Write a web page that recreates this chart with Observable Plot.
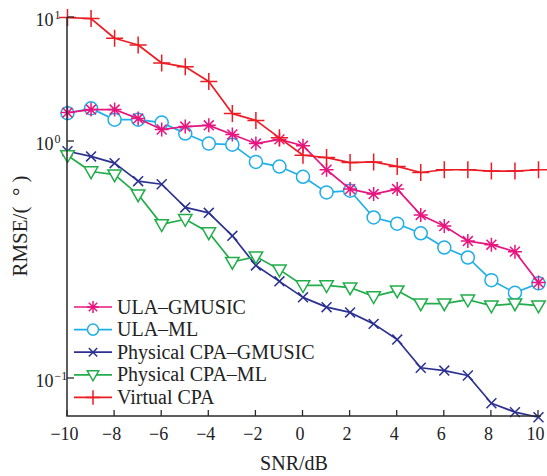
<!DOCTYPE html>
<html><head><meta charset="utf-8">
<script src="https://cdn.jsdelivr.net/npm/d3@7"></script>
<script src="https://cdn.jsdelivr.net/npm/@observablehq/plot@0.6"></script>
<style>body{margin:0;background:#fff} #chart{width:547px;height:476px}</style>
</head><body><div id="chart"></div>
<script>
// ---- data ----
const snr = [-10,-9,-8,-7,-6,-5,-4,-3,-2,-1,0,1,2,3,4,5,6,7,8,9,10];
const ulaGmusic  = [1.71,1.81,1.81,1.53,1.25,1.32,1.35,1.14,0.98,1.04,0.96,0.76,0.63,0.60,0.63,0.49,0.44,0.38,0.367,0.343,0.254];
const ulaMl      = [1.69,1.85,1.50,1.50,1.42,1.16,0.98,0.97,0.82,0.784,0.71,0.61,0.62,0.478,0.45,0.41,0.357,0.324,0.26,0.23,0.252];
const cpaGmusic  = [0.91,0.865,0.81,0.68,0.66,0.527,0.50,0.40,0.30,0.257,0.22,0.20,0.19,0.17,0.146,0.111,0.108,0.103,0.0785,0.072,0.0685];
const cpaMl      = [0.873,0.747,0.725,0.597,0.447,0.47,0.413,0.31,0.327,0.288,0.247,0.247,0.242,0.222,0.235,0.207,0.207,0.215,0.203,0.207,0.203];
const virtualCpa = [10.0,9.8,6.8,6.0,4.3,4.0,3.05,1.68,1.48,1.07,0.875,0.855,0.815,0.82,0.785,0.74,0.76,0.76,0.75,0.75,0.76];
const seriesNames = ["ULA–GMUSIC","ULA–ML","Physical CPA–GMUSIC","Physical CPA–ML","Virtual CPA"];
const xTicks = [-10,-8,-6,-4,-2,0,2,4,6,8,10];
const yTicks = [0.1,1,10];
const yTickExp = ["−1","0","1"];
const xLabel = "SNR/dB";
const yLabel = "RMSE/(  ° )";

// ---- styling ----
const W = 547, H = 476;
const mL = 67, mR = 9, mT = 17, mB = 60;
const font = "'Liberation Serif','Times New Roman',serif";
const colors = ["#e6157f","#1eaee8","#2b3190","#21ad4a","#ec1c24"];
const R = s => Math.sqrt(s / Math.PI);
const symPlus = {draw(c,s){const r=R(s);c.moveTo(-r,0);c.lineTo(r,0);c.moveTo(0,-r);c.lineTo(0,r);}};
const symTimes = {draw(c,s){const r=R(s)*0.7071;c.moveTo(-r,-r);c.lineTo(r,r);c.moveTo(-r,r);c.lineTo(r,-r);}};
const symStar = {draw(c,s){const r=R(s),d=r*0.7071;c.moveTo(-r,0);c.lineTo(r,0);c.moveTo(0,-r);c.lineTo(0,r);c.moveTo(-d,-d);c.lineTo(d,d);c.moveTo(-d,d);c.lineTo(d,-d);}};
const symTri = {draw(c,s){const r=R(s);c.moveTo(-r*0.9,-r*0.62);c.lineTo(r*0.9,-r*0.62);c.lineTo(0,r*0.95);c.closePath();}};
const symCircle = {draw(c,s){const r=R(s);c.moveTo(r,0);c.arc(0,0,r,0,2*Math.PI);}};
const symbols = [symStar, symCircle, symTimes, symTri, symPlus];
const sizes = [7, 6.5, 7, 7.5, 8.5];
const fills = ["none","white","none","white","none"];
const values = [ulaGmusic, ulaMl, cpaGmusic, cpaMl, virtualCpa];
const drawOrder = [1,0,2,3,4];

const rows = values.map(v => snr.map((x,i) => ({snr:x, v:v[i]})));
const yMin = 0.069, yMax = 10;
const plotBottom = H - mB;
// piecewise log scale as in the figure (decades have unequal heights)
const yRange = [plotBottom, 378, 141, mT];
const axisColor = "#2a2a2a";

const marks = [];
for (const k of drawOrder) {
  marks.push(Plot.line(rows[k], {x:"snr", y:"v", stroke: colors[k], strokeWidth: 1.7}));
  marks.push(Plot.dot(rows[k], {x:"snr", y:"v", symbol: symbols[k], r: sizes[k], stroke: colors[k], fill: fills[k], strokeWidth: 1.5}));
}
marks.push(
  // axes lines and inward ticks
  (index, scales, vals, dims) => {
    const g = d3.create("svg:g").attr("stroke", axisColor).attr("fill", "none");
    const x0 = scales.x(-10), x1 = dims.width - dims.marginRight + 3;
    const yb = scales.y(yMin), yt = scales.y(yMax);
    g.append("path").attr("d", `M${x0},${yt}V${yb}H${x1}`).attr("stroke-width", 1.5);
    for (const t of xTicks) g.append("line").attr("x1", scales.x(t)).attr("x2", scales.x(t))
      .attr("y1", yb).attr("y2", yb - 6).attr("stroke-width", 1.3);
    for (const t of yTicks) g.append("line").attr("x1", x0).attr("x2", x0 + 7)
      .attr("y1", scales.y(t)).attr("y2", scales.y(t)).attr("stroke-width", 1.3);
    return g.node();
  },
  Plot.text(xTicks, {x: d=>d, y: yMin, text: d => d3.format("d")(d), dy: 18, dx: -3, fontSize: 18, fill: "#222", fontFamily: font}),
  Plot.text(yTicks, {x: -10, y: d=>d, text: () => "10", textAnchor: "end", dx: -14, dy: 3, fontSize: 18, fill: "#222", fontFamily: font}),
  Plot.text(yTicks, {x: -10, y: d=>d, text: (d,i) => yTickExp[i], textAnchor: "start", dx: -13, dy: -2, fontSize: 12, fill: "#222", fontFamily: font}),
  Plot.text([xLabel], {frameAnchor: "bottom", text: d=>d, textAnchor: "middle", lineAnchor: "middle", dx: -9, dy: 47, fontSize: 20, fill: "#222", fontFamily: font}),
  Plot.text([yLabel], {frameAnchor: "left", text: d=>d, textAnchor: "middle", lineAnchor: "middle", rotate: -90, dx: -47, dy: 9, fontSize: 21, fill: "#222", fontFamily: font}),
  // legend
  (index, scales, vals, dims) => {
    const g = d3.create("svg:g").attr("font-family", font).attr("font-size", 20).attr("fill", "#222");
    const x0 = dims.marginLeft + 7, top = dims.height - dims.marginBottom - 109, step = 22.6;
    seriesNames.forEach((name, k) => {
      const y = top + k * step;
      g.append("line").attr("x1", x0).attr("x2", x0 + 38).attr("y1", y).attr("y2", y)
        .attr("stroke", colors[k]).attr("stroke-width", 1.7);
      const s = sizes[k] * 0.85;
      g.append("path").attr("d", d3.symbol(symbols[k], Math.PI * s * s)())
        .attr("transform", `translate(${x0 + 19},${y})`)
        .attr("stroke", colors[k]).attr("fill", fills[k]).attr("stroke-width", 1.5);
      g.append("text").attr("x", x0 + 43).attr("y", y).attr("dy", "0.33em")
        .attr("text-anchor", "start").text(name);
    });
    return g.node();
  }
);

const chart = Plot.plot({
  width: W, height: H,
  marginLeft: mL, marginRight: mR, marginTop: mT, marginBottom: mB,
  style: {fontFamily: font, background: "white"},
  x: {domain: [-10, 10], axis: null},
  y: {type: "log", domain: [yMin, 0.1, 1, yMax], range: yRange, axis: null},
  marks
});
document.getElementById("chart").appendChild(chart);
</script>
</body></html>
